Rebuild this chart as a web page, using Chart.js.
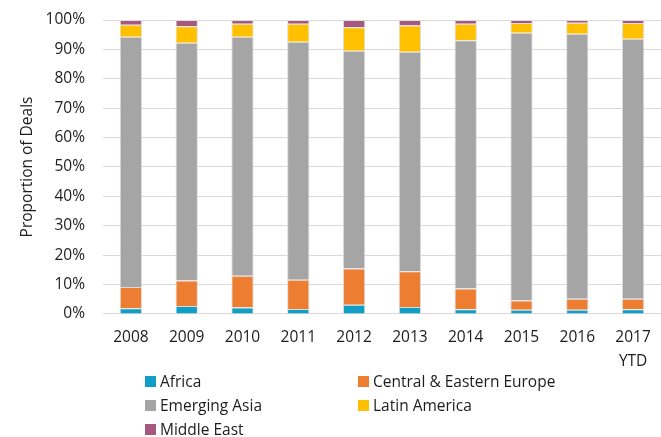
<!DOCTYPE html>
<html>
<head>
<meta charset="utf-8">
<script src="https://cdn.jsdelivr.net/npm/chart.js@4/dist/chart.umd.min.js"></script>
<style>
  html, body { margin: 0; padding: 0; background: #fff; }
  #wrap { position: relative; width: 661px; height: 437px; }
  #legend {
    position: absolute; left: 145px; top: 371px;
    display: grid; grid-template-columns: 213px 240px; row-gap: 4px;
    font-family: 'Open Sans', sans-serif; font-size: 15.5px; color: #1c1c1c;
  }
  #legend .item { display: flex; align-items: center; height: 20px; }
  #legend .box { width: 11px; height: 11px; margin-right: 4px; }
</style>
</head>
<body>
<div id="wrap">
  <canvas id="chart" width="661" height="437"></canvas>
  <div id="legend"></div>
</div>
<script>
// ---------- Data ----------
const years = ['2008', '2009', '2010', '2011', '2012', '2013', '2014', '2015', '2016', ['2017', 'YTD']];

const africa        = [1.9, 2.7, 2.2, 1.7, 3.1, 2.4, 1.6, 1.4, 1.4, 1.6];
const centralEurope = [7.3, 8.7, 10.8, 9.9, 12.4, 12.1, 7.1, 3.2, 3.8, 3.6];
const emergingAsia  = [85.1, 80.9, 81.3, 81.0, 74.0, 74.7, 84.4, 91.1, 90.1, 88.4];
const latinAmerica  = [4.1, 5.6, 4.4, 6.1, 8.0, 8.9, 5.6, 3.3, 3.8, 5.4];
const middleEast    = [1.6, 2.1, 1.3, 1.3, 2.5, 1.9, 1.3, 1.0, 0.9, 1.0];

const yTicks = [0, 10, 20, 30, 40, 50, 60, 70, 80, 90, 100];

const series = [
  { label: 'Africa', data: africa, color: '#0f9fc6' },
  { label: 'Central & Eastern Europe', data: centralEurope, color: '#ed7d31' },
  { label: 'Emerging Asia', data: emergingAsia, color: '#a5a5a5' },
  { label: 'Latin America', data: latinAmerica, color: '#ffc000' },
  { label: 'Middle East', data: middleEast, color: '#a6587f' },
];

const FONT = "'Open Sans', sans-serif";
Chart.defaults.font.family = FONT;
Chart.defaults.color = '#1c1c1c';

new Chart(document.getElementById('chart'), {
  type: 'bar',
  data: {
    labels: years,
    datasets: series.map(s => ({
      label: s.label,
      data: s.data,
      backgroundColor: s.color,
      borderColor: '#dcdcdc',
      borderWidth: 1,
      barPercentage: 0.8,
      categoryPercentage: 0.5,
    }))
  },
  options: {
    responsive: false,
    animation: false,
    layout: { padding: { top: 20, right: 0, bottom: 59, left: 0 } },
    plugins: { legend: { display: false }, tooltip: { enabled: false } },
    scales: {
      x: {
        stacked: true,
        grid: { display: false },
        border: { display: false },
        ticks: { font: { size: 15.5, lineHeight: 1.55 }, maxRotation: 0, padding: 4 },
      },
      y: {
        stacked: true,
        min: 0, max: 100,
        afterBuildTicks: scale => { scale.ticks = yTicks.map(v => ({ value: v })); },
        afterFit: scale => {
          // fixed axis width; let the layout padding alone set the top edge
          scale.width = 103;
          scale.paddingTop = 0;
          scale.paddingBottom = 0;
        },
        grid: { color: '#d9d9d9', drawTicks: false },
        border: { display: false },
        ticks: { font: { size: 15.5 }, padding: 18, callback: v => v + '%' },
        title: { display: true, text: 'Proportion of Deals', font: { size: 15.5 }, padding: { top: 18, bottom: 0 } },
      }
    }
  }
});

// ---------- Legend ----------
const legendEl = document.getElementById('legend');
series.forEach(s => {
  const item = document.createElement('div');
  item.className = 'item';
  item.innerHTML = `<span class="box" style="background:${s.color}"></span><span>${s.label}</span>`;
  legendEl.appendChild(item);
});
</script>
</body>
</html>
